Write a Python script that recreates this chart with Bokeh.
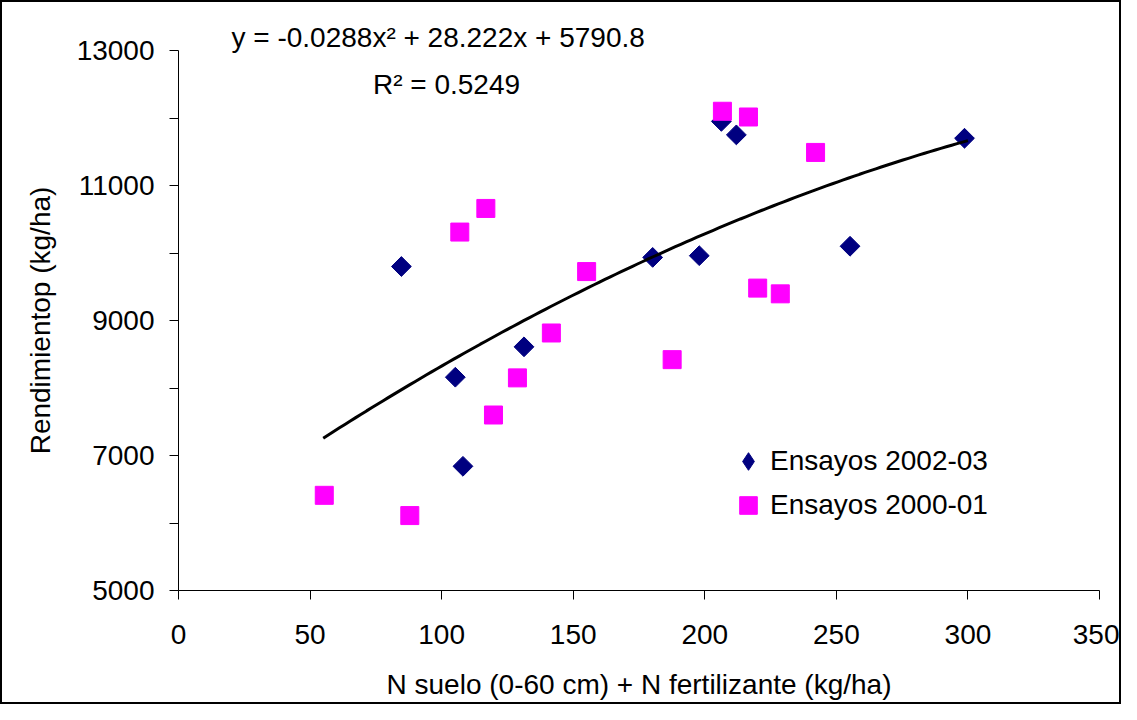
import numpy as np
from bokeh.plotting import figure
from bokeh.models import Range1d, FixedTicker, Label, Legend, LegendItem, Title
from bokeh.embed import file_html
from bokeh.resources import INLINE

# --- data ---
x_2002 = [84.7, 105.2, 108.1, 131.3, 180.2, 197.9, 206.3, 212.0, 255.2, 298.7]
y_2002 = [9800, 8160, 6840, 8610, 9935, 9960, 11950, 11750, 10100, 11700]

x_2000 = [55.4, 87.9, 106.9, 116.8, 119.7, 128.8, 141.7, 155.1, 187.6, 206.7, 216.6, 220.1, 228.7, 242.1]
y_2000 = [6410, 6110, 10310, 10660, 7600, 8150, 8815, 9725, 8420, 12100, 12015, 9480, 9395, 11490]

# polynomial trendline as printed on the chart
trend_coef = [-0.0288, 28.222, 5790.8]
trend_x_range = [55, 300]

x_ticks = [0, 50, 100, 150, 200, 250, 300, 350]
y_ticks = [5000, 7000, 9000, 11000, 13000]
y_minor_ticks = [6000, 8000, 10000, 12000]

series_names = ["Ensayos 2002-03", "Ensayos 2000-01"]
eq_text = "y = -0.0288x\u00b2 + 28.222x + 5790.8"
r2_text = "R\u00b2 = 0.5249"
x_title = "N suelo (0-60 cm) + N fertilizante (kg/ha)"
y_title = "Rendimientop (kg/ha)"

FONT = "Liberation Sans"
NAVY = "#000080"
MAGENTA = "#FF00FF"

p = figure(width=1121, height=704, output_backend="svg", toolbar_location=None,
           x_range=Range1d(0, 350), y_range=Range1d(5000, 13000),
           min_border_left=176, min_border_right=24, min_border_top=48, min_border_bottom=116)
p.styles = {"border": "2px solid black"}
p.outline_line_color = None
p.xgrid.visible = False
p.ygrid.visible = False
p.background_fill_color = "white"
p.border_fill_color = "white"

for ax in (p.xaxis[0], p.yaxis[0]):
    ax.axis_line_color = "black"
    ax.axis_line_width = 1
    ax.major_tick_line_color = "black"
    ax.minor_tick_line_color = "black"
    ax.major_tick_in = 0
    ax.major_tick_out = 9
    ax.minor_tick_in = 0
    ax.major_label_text_font = FONT
    ax.major_label_text_font_size = "28px"
    ax.major_label_text_color = "black"
    ax.axis_label_text_font = FONT
    ax.axis_label_text_font_size = "28px"
    ax.axis_label_text_font_style = "normal"
    ax.axis_label_text_color = "black"

p.xaxis[0].ticker = FixedTicker(ticks=x_ticks, minor_ticks=[])
p.xaxis[0].minor_tick_out = 0
p.xaxis[0].major_label_standoff = 25
p.xaxis[0].axis_label = x_title
p.xaxis[0].axis_label_standoff = 22

p.yaxis[0].ticker = FixedTicker(ticks=y_ticks, minor_ticks=y_minor_ticks)
p.yaxis[0].minor_tick_out = 9
p.yaxis[0].major_label_standoff = 15
p.yaxis[0].axis_label = y_title
p.yaxis[0].axis_label_standoff = 18

r1 = p.scatter(x_2002, y_2002, marker="square", angle=np.pi / 4, size=14,
               fill_color=NAVY, line_color=NAVY)
r2 = p.scatter(x_2000, y_2000, marker="square", size=18,
               fill_color=MAGENTA, line_color=MAGENTA)

# legend-only glyph (diamond shape, since legends do not rotate markers); hidden in the plot
r1_leg = p.scatter(x_2002, y_2002, marker="diamond", size=20,
                   fill_color=NAVY, line_color=NAVY, visible=False)

tx = np.linspace(trend_x_range[0], trend_x_range[1], 120)
ty = np.polyval(trend_coef, tx)
p.line(tx, ty, line_color="black", line_width=3)

legend = Legend(items=[LegendItem(label=series_names[0], renderers=[r1_leg]),
                       LegendItem(label=series_names[1], renderers=[r2])],
                location=(548, 63), glyph_width=44, glyph_height=44,
                label_standoff=-4, spacing=0, padding=0, margin=0,
                border_line_alpha=0, background_fill_alpha=0,
                label_text_font=FONT, label_text_font_size="28px",
                label_text_color="black", click_policy="none")
p.add_layout(legend)

p.add_layout(Title(text=eq_text, align="left", offset=53, standoff=-5,
                   text_font=FONT, text_font_size="28px", text_font_style="normal",
                   text_color="black"), "above")
p.add_layout(Label(x=268, y=506, x_units="screen", y_units="screen", text=r2_text,
                   text_align="center", text_baseline="alphabetic",
                   text_font=FONT, text_font_size="28px", text_color="black"))

open("out.html", "w").write(file_html(p, INLINE))
